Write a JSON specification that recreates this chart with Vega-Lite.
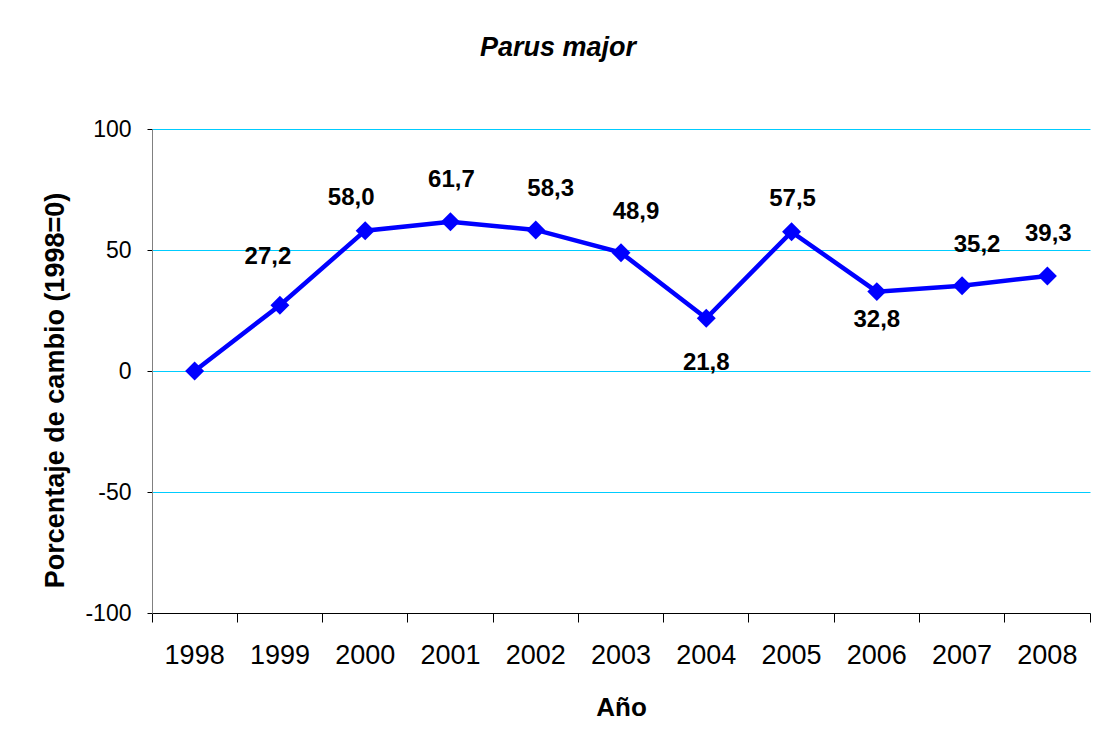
{
  "$schema": "https://vega.github.io/schema/vega-lite/v6.json",
  "width": 938,
  "height": 484,
  "autosize": {"type": "none"},
  "padding": {"left": 152, "top": 129, "right": 14, "bottom": 131},
  "background": "white",
  "title": {
    "text": "Parus major",
    "font": "Liberation Sans",
    "fontSize": 27,
    "fontStyle": "italic",
    "fontWeight": "bold",
    "color": "black",
    "anchor": "middle",
    "dx": -63,
    "offset": 35,
    "baseline": "alphabetic"
  },
  "data": {
    "values": [
      {"year": "1998", "value": 0.0},
      {"year": "1999", "value": 27.2},
      {"year": "2000", "value": 58.0},
      {"year": "2001", "value": 61.7},
      {"year": "2002", "value": 58.3},
      {"year": "2003", "value": 48.9},
      {"year": "2004", "value": 21.8},
      {"year": "2005", "value": 57.5},
      {"year": "2006", "value": 32.8},
      {"year": "2007", "value": 35.2},
      {"year": "2008", "value": 39.3}
    ]
  },
  "encoding": {
    "x": {
      "field": "year",
      "type": "ordinal",
      "bandPosition": 0.5,
      "scale": {"type": "band", "paddingInner": 0, "paddingOuter": 0},
      "axis": {
        "title": "Año",
        "titleFont": "Liberation Sans",
        "titleFontSize": 26,
        "titleFontWeight": "bold",
        "titleColor": "black",
        "titlePadding": 26,
        "labelFont": "Liberation Sans",
        "labelFontSize": 27,
        "labelColor": "black",
        "labelAngle": 0,
        "labelPadding": 20,
        "tickSize": 9,
        "tickColor": "#000000",
        "domainColor": "#000000",
        "bandPosition": 1,
        "tickExtra": true,
        "grid": false
      }
    },
    "y": {
      "field": "value",
      "type": "quantitative",
      "scale": {"domain": [-100, 100], "nice": false},
      "axis": {
        "title": "Porcentaje de cambio (1998=0)",
        "titleFont": "Liberation Sans",
        "titleFontSize": 27,
        "titleFontWeight": "bold",
        "titleColor": "black",
        "titlePadding": 15,
        "titleY": 261,
        "values": [-100, -50, 0, 50, 100],
        "format": "d",
        "labelFont": "Liberation Sans",
        "labelFontSize": 23,
        "labelColor": "black",
        "labelPadding": 16,
        "tickSize": 5,
        "tickColor": "#000000",
        "domainColor": "#808080",
        "grid": true,
        "gridColor": "#00CCFF",
        "gridOpacity": 1,
        "gridWidth": 1
      }
    }
  },
  "layer": [
    {"mark": {"type": "line", "color": "#0000FF", "strokeWidth": 4.5}},
    {"mark": {"type": "point", "shape": "diamond", "filled": true, "size": 360, "color": "#0000FF", "opacity": 1}},
    {
      "transform": [{"filter": {"field": "year", "oneOf": ["2001", "2008"]}}],
      "mark": {"type": "text", "dx": 1, "dy": -42},
      "encoding": {"text": {"field": "value", "type": "quantitative", "format": ".1f"}}
    },
    {
      "transform": [{"filter": {"field": "year", "oneOf": ["2002", "2003", "2007"]}}],
      "mark": {"type": "text", "dx": 15, "dy": -41},
      "encoding": {"text": {"field": "value", "type": "quantitative", "format": ".1f"}}
    },
    {
      "transform": [{"filter": {"field": "year", "oneOf": ["2000"]}}],
      "mark": {"type": "text", "dx": -14, "dy": -33},
      "encoding": {"text": {"field": "value", "type": "quantitative", "format": ".1f"}}
    },
    {
      "transform": [{"filter": {"field": "year", "oneOf": ["2005"]}}],
      "mark": {"type": "text", "dx": 1, "dy": -33},
      "encoding": {"text": {"field": "value", "type": "quantitative", "format": ".1f"}}
    },
    {
      "transform": [{"filter": {"field": "year", "oneOf": ["1999"]}}],
      "mark": {"type": "text", "dx": -12, "dy": -48},
      "encoding": {"text": {"field": "value", "type": "quantitative", "format": ".1f"}}
    },
    {
      "transform": [{"filter": {"field": "year", "oneOf": ["2004"]}}],
      "mark": {"type": "text", "dx": 0, "dy": 45},
      "encoding": {"text": {"field": "value", "type": "quantitative", "format": ".1f"}}
    },
    {
      "transform": [{"filter": {"field": "year", "oneOf": ["2006"]}}],
      "mark": {"type": "text", "dx": 0, "dy": 28},
      "encoding": {"text": {"field": "value", "type": "quantitative", "format": ".1f"}}
    }
  ],
  "config": {
    "locale": {
      "number": {
        "decimal": ",",
        "thousands": ".",
        "grouping": [3],
        "currency": ["", " €"],
        "minus": "-"
      }
    },
    "view": {"stroke": null},
    "axis": {"gridColor": "#00CCFF", "gridOpacity": 1},
    "text": {
      "font": "Liberation Sans",
      "fontSize": 24,
      "fontWeight": "bold",
      "color": "black",
      "align": "center",
      "baseline": "middle"
    }
  }
}
